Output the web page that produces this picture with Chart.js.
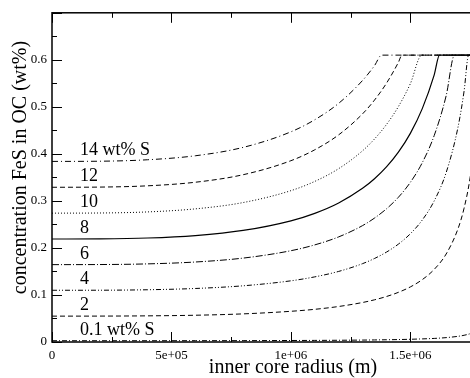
<!DOCTYPE html>
<html><head><meta charset="utf-8">
<script src="https://cdn.jsdelivr.net/npm/chart.js@4"></script>
<style>
html,body{margin:0;padding:0;overflow:hidden;background:#fff;width:470px;height:378px}
canvas{display:block}
</style></head>
<body><canvas id="c" width="490" height="378"></canvas>
<script>
// inner core radius (m) sample grid
const radius = [0, 2e5, 4e5, 6e5, 8e5, 1e6, 1.1e6, 1.2e6, 1.3e6, 1.35e6, 1.4e6, 1.45e6, 1.5e6, 1.55e6, 1.6e6, 1.65e6, 1.7e6, 1.725e6, 1.75e6, 1.775e6, 1.8e6];
// concentration FeS in OC for each bulk S content
const s14 = [0.384, 0.3844, 0.3875, 0.3960, 0.4138, 0.4469, 0.4726, 0.5075, 0.5561, 0.5876];
const s12 = [0.329, 0.3294, 0.3321, 0.3397, 0.3557, 0.3855, 0.4087, 0.4405, 0.4851, 0.5144, 0.5501, 0.5945];
const s10 = [0.274, 0.2743, 0.2766, 0.2831, 0.2965, 0.3218, 0.3415, 0.3686, 0.4066, 0.4317, 0.4624, 0.5006, 0.5492];
const s8  = [0.219, 0.2193, 0.2211, 0.2263, 0.2372, 0.2577, 0.2736, 0.2956, 0.3267, 0.3471, 0.3722, 0.4036, 0.4436, 0.4962, 0.5681];
const s6  = [0.1645, 0.1647, 0.1661, 0.1701, 0.1784, 0.1941, 0.2065, 0.2235, 0.2475, 0.2635, 0.2831, 0.3077, 0.3394, 0.3813, 0.4391, 0.5237];
const s4  = [0.110, 0.1101, 0.1111, 0.1138, 0.1195, 0.1301, 0.1385, 0.1501, 0.1666, 0.1776, 0.1911, 0.2081, 0.2301, 0.2594, 0.3001, 0.3603, 0.4579, 0.5335];
const s2  = [0.055, 0.0551, 0.0556, 0.0569, 0.0598, 0.0653, 0.0695, 0.0755, 0.0840, 0.0897, 0.0967, 0.1056, 0.1171, 0.1326, 0.1544, 0.1871, 0.2414, 0.2846, 0.3488, 0.4544];
const s01 = [0.0027, 0.0027, 0.0027, 0.0028, 0.0029, 0.0032, 0.0034, 0.0037, 0.0041, 0.0044, 0.0048, 0.0052, 0.0058, 0.0066, 0.0076, 0.0093, 0.0121, 0.0143, 0.0176, 0.0231, 0.0342];
// radius where each curve reaches the saturation level
const capRadius = [1.38e6, 1.465e6, 1.548e6, 1.622e6, 1.685e6, 1.744e6, 1.7955e6, null];
const capLevel = 0.61;
const curveLabels = ['14 wt% S', '12', '10', '8', '6', '4', '2', '0.1 wt% S'];
const xMax = 1.8e6;
const yMax = 0.7;
const xTickValues = [0, 5e5, 1e6, 1.5e6];
const xTickLabels = ['0', '5e+05', '1e+06', '1.5e+06'];
const yTickValues = [0, 0.1, 0.2, 0.3, 0.4, 0.5, 0.6];
const yTickLabels = ['0', '0.1', '0.2', '0.3', '0.4', '0.5', '0.6'];
const xTitle = 'inner core radius (m)';
const yTitle = 'concentration FeS in OC (wt%)';

const series = [s14, s12, s10, s8, s6, s4, s2, s01];
const dashes = [[6,3,1,3],[5,3],[1,2],[],[7,2,1,2],[5,2,1,2,1,2],[5,3],[5,2,1,2]];
const FONT = 'Liberation Serif';

const datasets = series.map((vals, i) => {
  const pts = [];
  vals.forEach((v, j) => { if (v !== null) pts.push({x: radius[j], y: v}); });
  if (capRadius[i] !== null) {
    pts.push({x: capRadius[i], y: capLevel});
    pts.push({x: xMax, y: capLevel});
  }
  return {
    label: curveLabels[i], data: pts, borderColor: '#000',
    borderWidth: i === 3 ? 1.2 : 1, borderDash: dashes[i],
    pointRadius: 0, fill: false, cubicInterpolationMode: 'monotone'
  };
});

const decor = {
  id: 'decor',
  afterDraw(chart) {
    const ctx = chart.ctx, a = chart.chartArea;
    const xs = chart.scales.x, ys = chart.scales.y;
    ctx.save();
    ctx.strokeStyle = '#000';
    // frame
    ctx.lineWidth = 1.5;
    ctx.strokeRect(a.left, a.top, a.right - a.left, a.bottom - a.top);
    // inward ticks
    ctx.lineWidth = 1;
    ctx.beginPath();
    for (let k = 0; k * 2.5e5 <= xMax + 1; k++) {
      const v = k * 2.5e5;
      const len = (k % 2 === 0) ? 10 : 5;
      const px = Math.round(xs.getPixelForValue(v)) + 0.5;
      ctx.moveTo(px, a.bottom); ctx.lineTo(px, a.bottom - len);
      ctx.moveTo(px, a.top); ctx.lineTo(px, a.top + len);
    }
    for (let k = 0; k <= 14; k++) {
      const v = k * 0.05;
      const len = (k % 2 === 0) ? 10 : 5;
      const py = Math.round(ys.getPixelForValue(v)) + 0.5;
      ctx.moveTo(a.left, py); ctx.lineTo(a.left + len, py);
      ctx.moveTo(a.right, py); ctx.lineTo(a.right - len, py);
    }
    ctx.stroke();
    // curve labels
    ctx.fillStyle = '#000';
    ctx.font = '18px "' + FONT + '"';
    ctx.textAlign = 'left';
    ctx.textBaseline = 'alphabetic';
    series.forEach((vals, i) => {
      ctx.fillText(curveLabels[i], a.left + 28, ys.getPixelForValue(vals[0]) - 6);
    });
    // axis titles
    ctx.font = '20px "' + FONT + '"';
    ctx.textAlign = 'center';
    ctx.fillText(xTitle, 293, 373);
    ctx.translate(25.5, 167.5);
    ctx.rotate(-Math.PI / 2);
    ctx.fillText(yTitle, 0, 0);
    ctx.restore();
  }
};

new Chart(document.getElementById('c'), {
  type: 'line',
  data: { datasets },
  options: {
    responsive: false, animation: false, devicePixelRatio: 1,
    layout: { padding: { top: 8, right: 8, left: 0, bottom: 0 } },
    plugins: { legend: { display: false }, tooltip: { enabled: false } },
    scales: {
      x: {
        type: 'linear', min: 0, max: xMax,
        grid: { display: false, drawTicks: false }, border: { display: false },
        afterBuildTicks: s => { s.ticks = xTickValues.map(v => ({ value: v })); },
        ticks: {
          autoSkip: false, maxRotation: 0, minRotation: 0,
          padding: 6, color: '#000', font: { family: FONT, size: 13 },
          callback: (v, i) => xTickLabels[i]
        },
        afterFit: s => { s.height = 36; }
      },
      y: {
        type: 'linear', min: 0, max: yMax,
        grid: { display: false, drawTicks: false }, border: { display: false },
        afterBuildTicks: s => { s.ticks = yTickValues.map(v => ({ value: v })); },
        ticks: {
          autoSkip: false,
          padding: 5, color: '#000', font: { family: FONT, size: 13 },
          callback: (v, i) => yTickLabels[i]
        },
        afterFit: s => { s.width = 52; }
      }
    }
  },
  plugins: [decor]
});
</script>
</body></html>
